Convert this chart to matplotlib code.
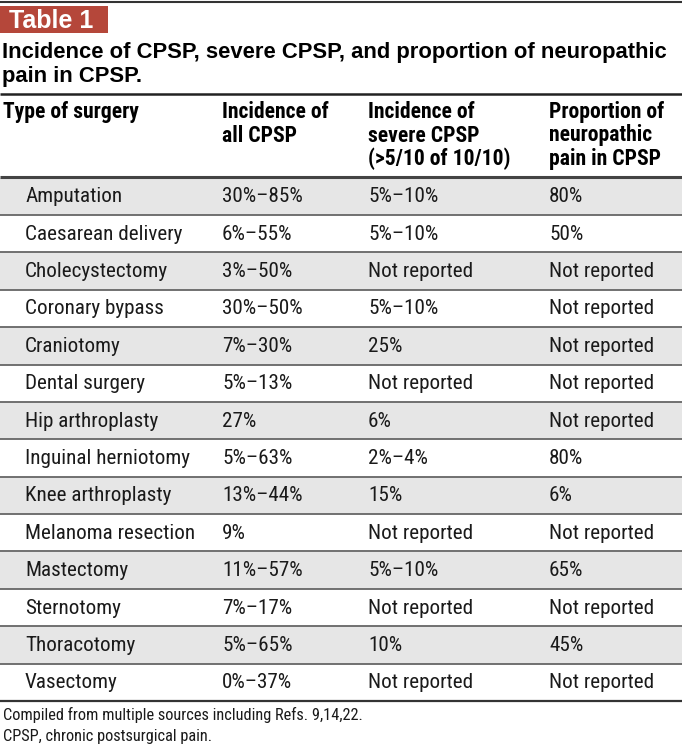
import matplotlib.pyplot as plt
from matplotlib.patches import Rectangle

# table content
title = ["Incidence of CPSP, severe CPSP, and proportion of neuropathic",
         "pain in CPSP."]
headers = [["Type of surgery"],
           ["Incidence of", "all CPSP"],
           ["Incidence of", "severe CPSP", "(>5/10 of 10/10)"],
           ["Proportion of", "neuropathic", "pain in CPSP"]]
surgery = ["Amputation", "Caesarean delivery", "Cholecystectomy", "Coronary bypass",
           "Craniotomy", "Dental surgery", "Hip arthroplasty", "Inguinal herniotomy",
           "Knee arthroplasty", "Melanoma resection", "Mastectomy", "Sternotomy",
           "Thoracotomy", "Vasectomy"]
incidence_all = ["30%\u201385%", "6%\u201355%", "3%\u201350%", "30%\u201350%", "7%\u201330%",
                 "5%\u201313%", "27%", "5%\u201363%", "13%\u201344%", "9%", "11%\u201357%",
                 "7%\u201317%", "5%\u201365%", "0%\u201337%"]
incidence_severe = ["5%\u201310%", "5%\u201310%", "Not reported", "5%\u201310%", "25%",
                    "Not reported", "6%", "2%\u20134%", "15%", "Not reported",
                    "5%\u201310%", "Not reported", "10%", "Not reported"]
neuropathic = ["80%", "50%", "Not reported", "Not reported", "Not reported",
               "Not reported", "Not reported", "80%", "6%", "Not reported", "65%",
               "Not reported", "45%", "Not reported"]
notes = ["Compiled from multiple sources including Refs. 9,14,22.",
         "CPSP, chronic postsurgical pain."]

W, H = 682, 747
narrow = ["Roboto Condensed", "PT Sans Narrow", "DejaVu Sans"]
wide = ["Liberation Sans", "DejaVu Sans"]

fig = plt.figure(figsize=(W / 100, H / 100), dpi=100)
ax = fig.add_axes([0, 0, 1, 1])
ax.set_xlim(0, W)
ax.set_ylim(H, 0)
ax.axis('off')

# "Table 1" tag
ax.add_patch(Rectangle((0, 6), 108, 27, color='#B5473A', lw=0))
ax.text(9, 20.5, "Table 1", color='white', fontsize=18, fontweight='bold',
        family=wide, va='center', ha='left')

ax.hlines(2, 0, W, color='#333333', lw=1.5)
for k, line in enumerate(title):
    ax.text(2, 58 + k * 24, line, fontsize=15.8, fontweight='bold', family=wide,
            va='baseline', ha='left')
ax.hlines(94, 0, W, color='#222222', lw=1.8)

col_x = [3, 222, 368, 549]
for x, lines in zip(col_x, headers):
    for k, line in enumerate(lines):
        ax.text(x, 118 + k * 23.5, line, fontsize=15.6, fontweight='bold',
                family=narrow, va='baseline', ha='left')
ax.hlines(176.5, 0, W, color='#444444', lw=2.2)

top, row_h = 177.5, 37.4
for i, row in enumerate(zip(surgery, incidence_all, incidence_severe, neuropathic)):
    y0 = top + i * row_h
    if i % 2 == 0:
        ax.add_patch(Rectangle((0, y0), W, row_h, color='#E6E6E6', lw=0))
    yc = y0 + row_h / 2 + 0.5
    for j, val in enumerate(row):
        x = 25 if j == 0 else col_x[j]
        ax.text(x, yc, val, fontsize=15.2, family=narrow, va='center', ha='left',
                color='#1a1a1a')
    if i < len(surgery) - 1:
        ax.hlines(y0 + row_h, 0, W, color='#666666', lw=1.3)
ax.hlines(top + len(surgery) * row_h, 0, W, color='#333333', lw=1.6)

for k, note in enumerate(notes):
    ax.text(3, 715 + k * 21, note, fontsize=11.8, family=narrow,
            va='center', ha='left', color='#1a1a1a')

fig.savefig("out.png", dpi=100)
